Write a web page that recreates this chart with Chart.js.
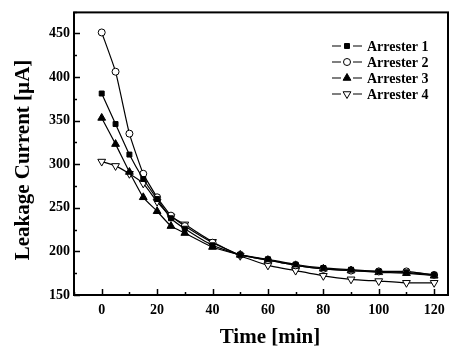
<!DOCTYPE html>
<html>
<head>
<meta charset="utf-8">
<script src="https://cdn.jsdelivr.net/npm/chart.js@4.4.1/dist/chart.umd.min.js"></script>
<style>
  html, body { margin: 0; padding: 0; background: #fff; }
  canvas { display: block; }
</style>
</head>
<body>
<canvas id="leakChart" width="457" height="352"></canvas>
<script>
const times = [0, 5, 10, 15, 20, 25, 30, 40, 50, 60, 70, 80, 90, 100, 110, 120];
const arrester1 = [381, 346, 311, 283, 260, 238, 226, 207, 196, 191, 185, 181, 179, 177, 176, 173];
const arrester2 = [451, 406, 335, 289, 262, 241, 229, 210, 196, 190, 184, 180, 178, 177, 177, 173];
const arrester3 = [353, 323, 291, 262, 246, 229, 221, 205, 196, 190, 184, 180, 178, 176, 175, 172];
const arrester4 = [303, 298, 289, 278, 257, 240, 231, 211, 195, 184, 178, 172, 168, 166, 164, 164];
const seriesNames = ['Arrester 1', 'Arrester 2', 'Arrester 3', 'Arrester 4'];
const yTicks = [150, 200, 250, 300, 350, 400, 450];
const xTicks = [0, 20, 40, 60, 80, 100, 120];

const serif = '"Liberation Serif", "DejaVu Serif", serif';

function pts(vals) {
  return times.map((t, i) => ({ x: t, y: vals[i] }));
}

const styles = [
  { pointStyle: 'rect', radius: 3.5, fill: '#000', rotation: 0 },
  { pointStyle: 'circle', radius: 3.5, fill: '#fff', rotation: 0 },
  { pointStyle: 'triangle', radius: 4.5, fill: '#000', rotation: 0 },
  { pointStyle: 'triangle', radius: 4.5, fill: '#fff', rotation: 180 }
];

const datasets = [arrester1, arrester2, arrester3, arrester4].map((vals, i) => ({
  label: seriesNames[i],
  data: pts(vals),
  borderColor: '#000',
  borderWidth: 1.2,
  backgroundColor: styles[i].fill,
  pointStyle: styles[i].pointStyle,
  pointRadius: styles[i].radius,
  pointRotation: styles[i].rotation,
  pointBorderColor: '#000',
  pointBorderWidth: 1,
  pointBackgroundColor: styles[i].fill,
  tension: 0.15
}));

// frame, inward ticks, legend and axis titles
const decor = {
  id: 'decor',
  afterDraw(chart) {
    const ctx = chart.ctx;
    const a = chart.chartArea;
    const xs = chart.scales.x, ys = chart.scales.y;
    ctx.save();
    ctx.strokeStyle = '#000';
    ctx.lineWidth = 1.5;
    for (let v = -10; v <= 120; v += 10) {
      const px = Math.round(xs.getPixelForValue(v)) + 0.5;
      const len = v % 20 === 0 ? 6 : 3;
      ctx.beginPath(); ctx.moveTo(px, a.bottom); ctx.lineTo(px, a.bottom - len); ctx.stroke();
    }
    for (let v = 150; v <= 475; v += 25) {
      const py = Math.round(ys.getPixelForValue(v)) + 0.5;
      const len = v % 50 === 0 ? 6 : 3;
      ctx.beginPath(); ctx.moveTo(a.left, py); ctx.lineTo(a.left + len, py); ctx.stroke();
    }
    ctx.lineWidth = 2;
    ctx.strokeRect(a.left, a.top, a.right - a.left, a.bottom - a.top);

    // legend: —marker— label
    const rowY = [46, 62, 78, 94];
    chart.data.datasets.forEach((ds, i) => {
      const y = rowY[i];
      ctx.strokeStyle = '#000';
      ctx.lineWidth = 1.2;
      ctx.beginPath();
      ctx.moveTo(332, y); ctx.lineTo(341, y);
      ctx.moveTo(353, y); ctx.lineTo(362, y);
      ctx.stroke();
      ctx.fillStyle = ds.pointBackgroundColor;
      ctx.lineWidth = 1;
      Chart.helpers.drawPoint(ctx, {
        pointStyle: ds.pointStyle, radius: ds.pointRadius, rotation: ds.pointRotation, borderWidth: 1
      }, 347, y);
      ctx.fillStyle = '#000';
      ctx.font = 'bold 14px ' + serif;
      ctx.textAlign = 'left';
      ctx.textBaseline = 'middle';
      ctx.fillText(ds.label, 367, y + 1);
    });

    // axis titles
    ctx.fillStyle = '#000';
    ctx.font = 'bold 21px ' + serif;
    ctx.textAlign = 'center';
    ctx.textBaseline = 'middle';
    ctx.fillText('Time [min]', 270, 338);
    ctx.translate(24, 160);
    ctx.rotate(-Math.PI / 2);
    ctx.fillText('Leakage Current [\u00B5A]', 0, 0);
    ctx.restore();
  }
};

new Chart(document.getElementById('leakChart').getContext('2d'), {
  type: 'line',
  data: { datasets },
  options: {
    responsive: false,
    animation: false,
    layout: { padding: { top: 12, right: 9, left: 0, bottom: 0 } },
    plugins: {
      legend: { display: false },
      tooltip: { enabled: false }
    },
    scales: {
      x: {
        type: 'linear',
        min: -10,
        max: 125,
        afterFit(scale) { scale.height = 57; },
        afterBuildTicks(scale) { scale.ticks = xTicks.map(v => ({ value: v })); },
        grid: { display: false, drawTicks: false },
        border: { display: false },
        ticks: {
          padding: 7,
          color: '#000',
          font: { family: serif, weight: 'bold', size: 14 }
        }
      },
      y: {
        min: 150,
        max: 474,
        afterFit(scale) { scale.width = 74; },
        afterBuildTicks(scale) { scale.ticks = yTicks.map(v => ({ value: v })); },
        grid: { display: false, drawTicks: false },
        border: { display: false },
        ticks: {
          padding: 4,
          color: '#000',
          font: { family: serif, weight: 'bold', size: 14 }
        }
      }
    }
  },
  plugins: [decor]
});
</script>
</body>
</html>
